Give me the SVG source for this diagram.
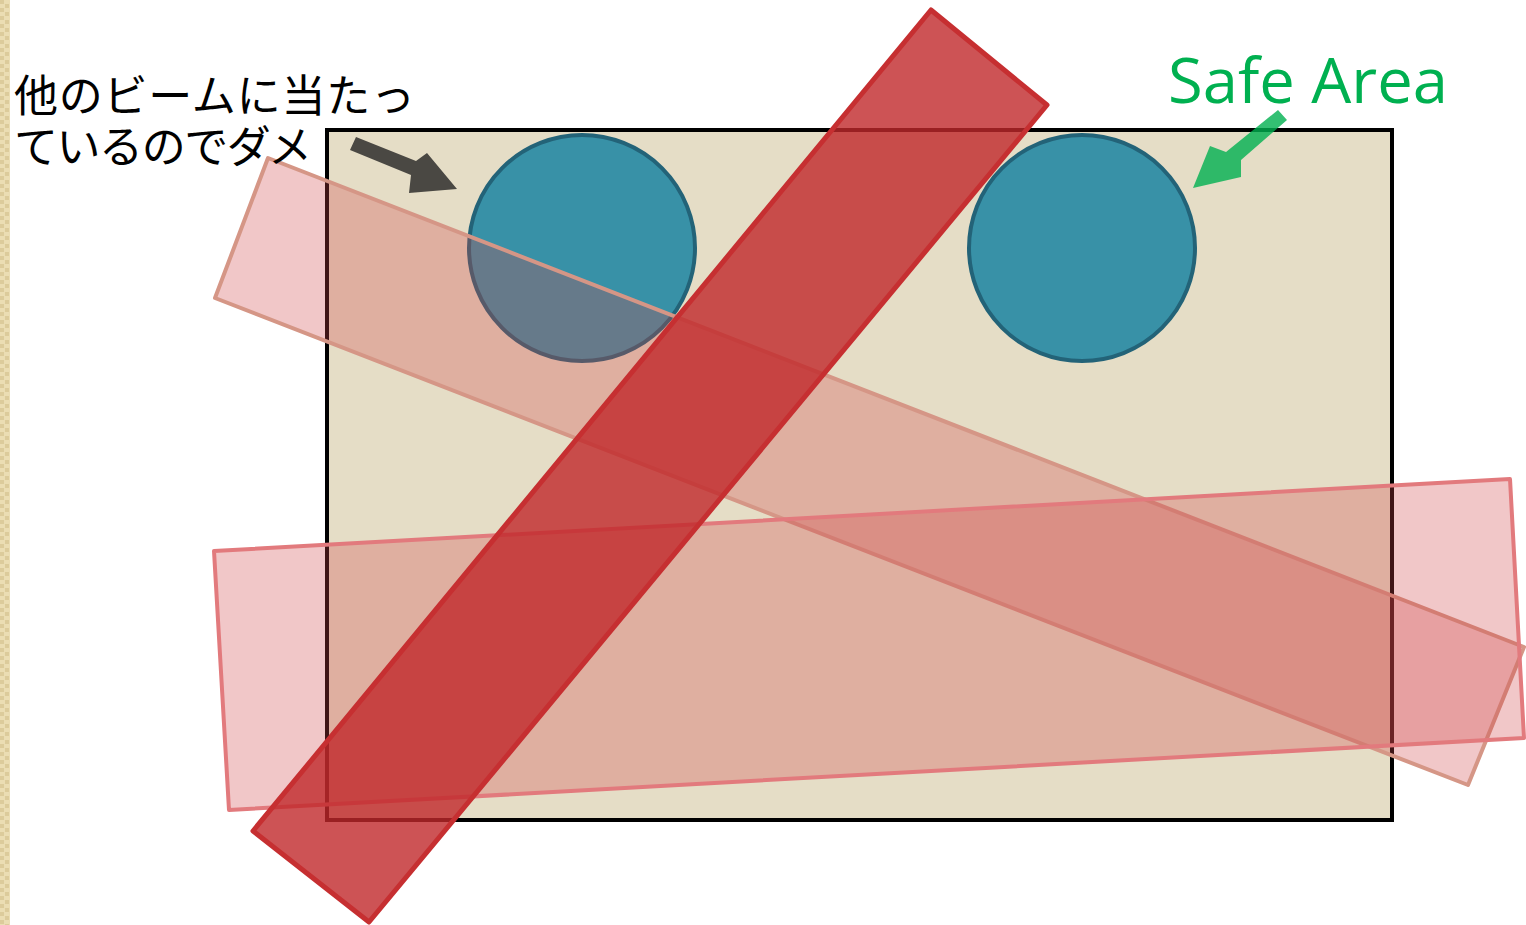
<svg xmlns="http://www.w3.org/2000/svg" width="1526" height="925" viewBox="0 0 1526 925">
<style>
.circle{fill:#3891A7;stroke:#236378;stroke-width:4}
.pink1{fill:#D24649;fill-opacity:0.3;stroke:#D59686;stroke-width:4;stroke-linejoin:round}
.pink2{fill:#D24649;fill-opacity:0.3;stroke:#E27A7D;stroke-width:4;stroke-linejoin:round}
.red{fill:#C0282B;fill-opacity:0.8;stroke:#C62F31;stroke-width:5;stroke-linejoin:round}
.jp{font-family:"Noto Sans CJK JP","Noto Sans CJK SC",sans-serif;font-size:44px;font-weight:400;fill:#000}
.safe{font-family:"Open Sans","Liberation Sans",sans-serif;font-size:62px;fill:#00B050}
</style>
<defs>
<pattern id="chk" x="0" y="0" width="10" height="8" patternUnits="userSpaceOnUse">
<rect width="10" height="8" fill="#EBDDB3"/>
<rect x="0" y="0" width="4" height="4" fill="#DCCB9B"/>
<rect x="5" y="4" width="4" height="4" fill="#DCCB9B"/>
</pattern>
</defs>
<rect width="1526" height="925" fill="#FFFFFF"/>
<rect id="strip" x="0" y="0" width="10" height="925" fill="url(#chk)"/>
<g id="area">
<rect x="327" y="130" width="1065" height="690" fill="#E5DDC6" stroke="#000" stroke-width="4"/>
</g>
<g id="circle1"><circle class="circle" cx="582" cy="248" r="113"/></g>
<g id="circle2"><circle class="circle" cx="1082" cy="248" r="113"/></g>
<g id="beams">
<polygon id="beam1" class="pink1" points="268,158 1524,647 1468,785 215,298"/>
<polygon id="beam2" class="pink2" points="214,551 1510,479 1524,738 229,810"/>
<polygon id="beam3" class="red" points="931,10 1047,105 369,922 253,831"/>
</g>
<g id="connectors">
<polygon fill="#4A4843" points="350,150 356,137 416,161 427,153 457,189 409,193 411,175"/>
<polygon fill="#00B050" fill-opacity="0.8" points="1278,110 1287,120 1241,160 1241,177 1193,188 1210,146 1226,152"/>
</g>
<g id="labels">
<text class="jp" x="14" y="112" textLength="401" lengthAdjust="spacing">他のビームに当たっ</text>
<text class="jp" x="14" y="163" textLength="298" lengthAdjust="spacing">ているのでダメ</text>
<text class="safe" x="1168" y="103" textLength="280" lengthAdjust="spacingAndGlyphs">Safe Area</text>
</g>
</svg>
